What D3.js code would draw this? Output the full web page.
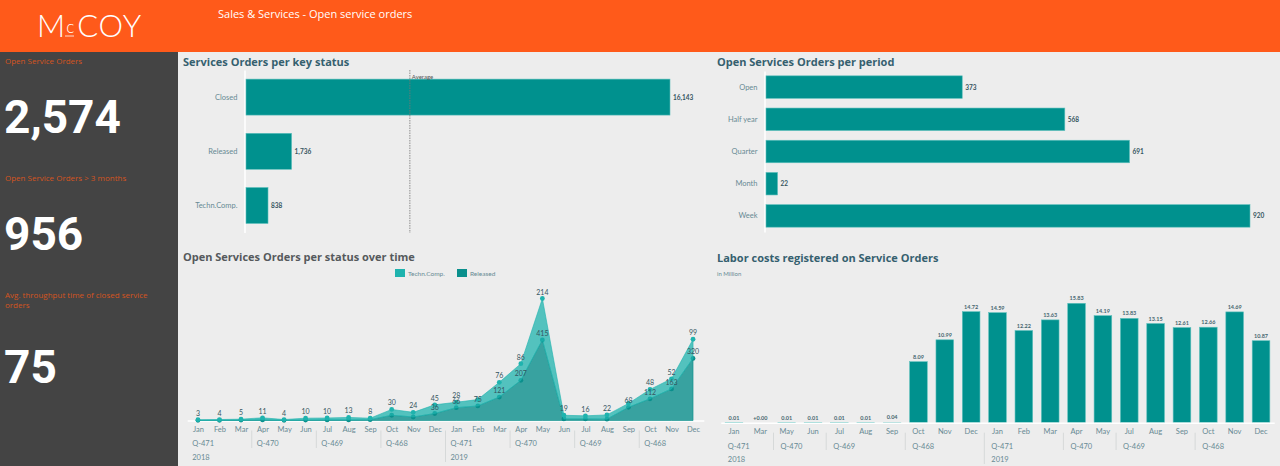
<!DOCTYPE html>
<html lang="en">
<head>
    <meta charset="UTF-8">
    <title>Sales & Services - Open service orders</title>
    <script src="https://d3js.org/d3.v7.min.js"></script>
    <style>
        html, body { margin: 0; padding: 0; background: #ededed; overflow: hidden; }
        svg { display: block; }
        text { font-family: "Lato", sans-serif; }
        .title { font-family: "Open Sans", sans-serif; font-size: 11px; font-weight: 700; }
        .kpi-label { font-family: "Open Sans", sans-serif; font-size: 8px; fill: #d4541f; }
        .kpi-value { font-family: "Roboto", sans-serif; font-size: 46px; font-weight: 700; fill: #fff; }
        .cat text, .tick-label { font-size: 7.5px; fill: #688a94; }
        .val { font-size: 6.5px; font-weight: 700; fill: #35555f; }
        .point-val { font-size: 7px; fill: #35555f; text-anchor: middle; }
        .bar-val { font-size: 5.5px; font-weight: 700; fill: #46666f; text-anchor: middle; }
        .axis-line { stroke: #fff; stroke-width: 1.5; }
        .sep { stroke: #d6d9d9; stroke-width: 1; }
        .bar { fill: #00918e; stroke: #5fc0bd; stroke-width: 0.6; }
    </style>
</head>
<body>
    <svg id="chart" width="1280" height="466"></svg>

    <script>
        // key status
        const statusCats = ["Closed", "Released", "Techn.Comp."];
        const statusValues = [16143, 1736, 838];

        // period
        const periodCats = ["Open", "Half year", "Quarter", "Month", "Week"];
        const periodValues = [373, 568, 691, 22, 920];

        // status over time, 2018 + 2019
        const areaMonths = ["Jan","Feb","Mar","Apr","May","Jun","Jul","Aug","Sep","Oct","Nov","Dec",
                            "Jan","Feb","Mar","Apr","May","Jun","Jul","Aug","Sep","Oct","Nov","Dec"];
        const areaYears = [2018,2018,2018,2018,2018,2018,2018,2018,2018,2018,2018,2018,
                           2019,2019,2019,2019,2019,2019,2019,2019,2019,2019,2019,2019];
        const technValues = [3,4,5,11,4,10,10,13,8,30,24,45, 28,33,76,86,214,19,16,22,20,48,52,99];
        const releasedValues = [1,1,2,3,1,2,3,3,4,27,18,36, 66,75,121,207,415,8,8,7,68,112,163,320];
        // labels that the original hides because they overlap
        const technHidden = [13, 20];
        const releasedShownFrom = 11;
        const releasedHidden = [17, 18, 19];

        // labor costs
        const laborMonths = ["Jan","Mar","May","Jun","Jul","Aug","Sep","Oct","Nov","Dec",
                             "Jan","Feb","Mar","Apr","May","Jul","Aug","Sep","Oct","Nov","Dec"];
        const laborYears = [2018,2018,2018,2018,2018,2018,2018,2018,2018,2018,
                            2019,2019,2019,2019,2019,2019,2019,2019,2019,2019,2019];
        const laborValues = [0.01,0.00,0.01,0.01,0.01,0.01,0.04,8.09,10.99,14.72,
                             14.59,12.22,13.63,15.83,14.19,13.83,13.15,12.61,12.66,14.69,10.87];

        const svg = d3.select("#chart");
        const fmt = d3.format(",");

        // page frame
        svg.append("rect").attr("width", 1280).attr("height", 52).attr("fill", "#ff5a1a");
        svg.append("rect").attr("y", 52).attr("width", 178).attr("height", 414).attr("fill", "#444444");

        const logo = svg.append("text").attr("x", 37).attr("y", 37).attr("fill", "#fff")
            .style("font-weight", 300).style("font-size", "31px");
        logo.append("tspan").text("M");
        logo.append("tspan").attr("dx", 1).attr("dy", -4).style("font-size", "17px").text("c");
        logo.append("tspan").attr("dx", 3).attr("dy", 4).attr("textLength", 64).text("COY");
        svg.append("line").attr("x1", 65).attr("x2", 74).attr("y1", 36).attr("y2", 36)
            .attr("stroke", "#fff").attr("stroke-width", 0.8);

        svg.append("text").attr("x", 218).attr("y", 18).attr("fill", "#fff")
            .style("font-size", "11px").style("font-family", "'Open Sans', sans-serif")
            .text("Sales & Services - Open service orders");

        // KPI column
        [["Open Service Orders", 64], ["Open Service Orders > 3 months", 181],
         ["Avg. throughput time of closed service", 298], ["orders", 308]].forEach(d => {
            svg.append("text").attr("class", "kpi-label").attr("x", 5).attr("y", d[1]).text(d[0]);
        });
        [["2,574", 133], ["956", 250], ["75", 383]].forEach(d => {
            svg.append("text").attr("class", "kpi-value").attr("x", 4).attr("y", d[1]).text(d[0]);
        });

        // titles
        [["Services Orders per key status", 183, 66, "#35606f"],
         ["Open Services Orders per period", 717, 66, "#35606f"],
         ["Open Services Orders per status over time", 183, 261, "#55595c"],
         ["Labor costs registered on Service Orders", 717, 262, "#35606f"]].forEach(d => {
            svg.append("text").attr("class", "title").attr("x", d[1]).attr("y", d[2])
                .attr("fill", d[3]).text(d[0]);
        });
        svg.append("text").attr("class", "tick-label").attr("x", 717).attr("y", 276)
            .style("font-size", "6px").text("in Million");

        function hbar(cats, values, xRange, yRange, padInner) {
            const x = d3.scaleLinear().domain([0, d3.max(values)]).range(xRange);
            const y = d3.scaleBand().domain(cats).range(yRange)
                .paddingInner(padInner).paddingOuter(padInner / 2);

            const axis = svg.append("g").attr("class", "cat")
                .attr("transform", `translate(${xRange[0] - 1.5},0)`)
                .call(d3.axisLeft(y).tickSize(0).tickPadding(7));
            axis.select(".domain").attr("class", "axis-line");

            svg.selectAll(null).data(cats).enter().append("rect")
                .attr("class", "bar")
                .attr("x", xRange[0])
                .attr("y", d => y(d))
                .attr("width", (d, i) => x(values[i]) - xRange[0])
                .attr("height", y.bandwidth());

            svg.selectAll(null).data(cats).enter().append("text")
                .attr("class", "val")
                .attr("x", (d, i) => x(values[i]) + 3)
                .attr("y", d => y(d) + y.bandwidth() / 2 + 2.5)
                .text((d, i) => fmt(values[i]));
            return x;
        }

        const xStatus = hbar(statusCats, statusValues, [246, 670], [70, 232.6], 0.336);
        hbar(periodCats, periodValues, [766, 1250], [71, 232], 0.3);

        // average marker
        const avg = d3.mean(statusValues);
        svg.append("line").attr("x1", xStatus(avg)).attr("x2", xStatus(avg)).attr("y1", 70).attr("y2", 233)
            .attr("stroke", "#777").attr("stroke-width", 0.8).attr("stroke-dasharray", "1.5,1");
        svg.append("text").attr("x", xStatus(avg) + 2).attr("y", 79)
            .style("font-size", "6px").attr("fill", "#555").text("Average");

        // month / quarter / year rows under a time axis
        function timeAxis(months, years, x, step, baseline, opt) {
            const idx = d3.range(months.length);
            const axis = svg.append("g")
                .attr("transform", `translate(0,${baseline})`)
                .call(d3.axisBottom(x).tickSize(0).tickPadding(opt.monthPad).tickFormat(i => months[i]));
            axis.select(".domain").attr("class", "axis-line");
            axis.selectAll("text").attr("class", "tick-label");

            const quarter = i => "Q" + (Math.floor(d3.timeMonth.count(d3.timeYear(new Date(2018, 0)),
                d3.timeParse("%b")(months[i])) / 3) + 1);
            const pos = i => (x.bandwidth() > 0 ? x(i) + x.bandwidth() / 2 : x(i));

            idx.forEach(i => {
                const newYear = i === 0 || years[i] !== years[i - 1];
                const newQuarter = newYear || quarter(i) !== quarter(i - 1);
                const left = pos(i) - step / 2;
                if (newQuarter) {
                    svg.append("text").attr("class", "tick-label")
                        .attr("x", left + opt.labelOffset).attr("y", opt.quarterY).text(quarter(i));
                    if (i > 0) {
                        svg.append("line").attr("class", "sep").attr("x1", left).attr("x2", left)
                            .attr("y1", baseline + 10).attr("y2", newYear ? opt.yearEnd : opt.quarterEnd);
                    }
                }
                if (newYear) {
                    svg.append("text").attr("class", "tick-label")
                        .attr("x", left + opt.labelOffset).attr("y", opt.yearY).text(years[i]);
                }
            });
        }

        // stacked area
        const xArea = d3.scalePoint().domain(d3.range(areaMonths.length)).range([187.2, 703.8]).padding(0.5);
        const yArea = d3.scaleLinear().domain([0, 629]).range([420.5, 298.5]);
        const rows = areaMonths.map((m, i) => ({ i: i, released: releasedValues[i], techn: technValues[i] }));
        const stacked = d3.stack().keys(["released", "techn"])(rows);
        const areaGen = d3.area().x(d => xArea(d.data.i)).y0(d => yArea(d[0])).y1(d => yArea(d[1]));
        const areaFill = { released: "#0a8f8c", techn: "#1fb3ae" };

        timeAxis(areaMonths, areaYears, xArea, xArea.step(), 420.5,
            { monthPad: 6, quarterY: 446, yearY: 460, quarterEnd: 448, yearEnd: 462, labelOffset: 5 });

        stacked.forEach(layer => {
            svg.append("path").datum(layer)
                .attr("d", areaGen)
                .attr("fill", areaFill[layer.key])
                .attr("fill-opacity", layer.key === "techn" ? 0.75 : 0.8)
                .attr("stroke", areaFill[layer.key]).attr("stroke-width", 0.6);
            svg.selectAll(null).data(layer).enter().append("circle")
                .attr("cx", d => xArea(d.data.i))
                .attr("cy", d => yArea(d[1]))
                .attr("r", 2.4)
                .attr("fill", areaFill[layer.key]);
        });

        stacked[1].forEach(d => {
            if (technHidden.includes(d.data.i)) return;
            svg.append("text").attr("class", "point-val")
                .attr("x", xArea(d.data.i)).attr("y", yArea(d[1]) - 4).text(d.data.techn);
        });
        stacked[0].forEach(d => {
            if (d.data.i < releasedShownFrom || releasedHidden.includes(d.data.i)) return;
            svg.append("text").attr("class", "point-val")
                .attr("x", xArea(d.data.i)).attr("y", yArea(d[1]) - 4).text(d.data.released);
        });

        // legend
        [["Techn.Comp.", "#1fb3ae", 395], ["Released", "#0a8f8c", 457]].forEach(d => {
            svg.append("rect").attr("x", d[2]).attr("y", 269).attr("width", 10).attr("height", 8).attr("fill", d[1]);
            svg.append("text").attr("class", "tick-label").attr("x", d[2] + 13).attr("y", 275.5)
                .style("font-size", "6.5px").text(d[0]);
        });

        // labor bars
        const xLabor = d3.scaleBand().domain(d3.range(laborMonths.length)).range([720.8, 1274.2])
            .paddingInner(0.33).paddingOuter(0.165);
        const yLabor = d3.scaleLinear().domain([0, 15.83]).range([422.7, 303.3]);

        svg.selectAll(null).data(laborValues).enter().append("rect")
            .attr("class", "bar")
            .attr("x", (d, i) => xLabor(i))
            .attr("y", d => yLabor(d))
            .attr("width", xLabor.bandwidth())
            .attr("height", d => yLabor(0) - yLabor(d));

        svg.selectAll(null).data(laborValues).enter().append("text")
            .attr("class", "bar-val")
            .attr("x", (d, i) => xLabor(i) + xLabor.bandwidth() / 2)
            .attr("y", d => yLabor(d) - 3)
            .text(d => d === 0 ? "+0.00" : d.toFixed(2));

        timeAxis(laborMonths, laborYears, xLabor, xLabor.step(), 422.7,
            { monthPad: 6, quarterY: 449, yearY: 462, quarterEnd: 450, yearEnd: 464, labelOffset: 7 });
    </script>
</body>
</html>
